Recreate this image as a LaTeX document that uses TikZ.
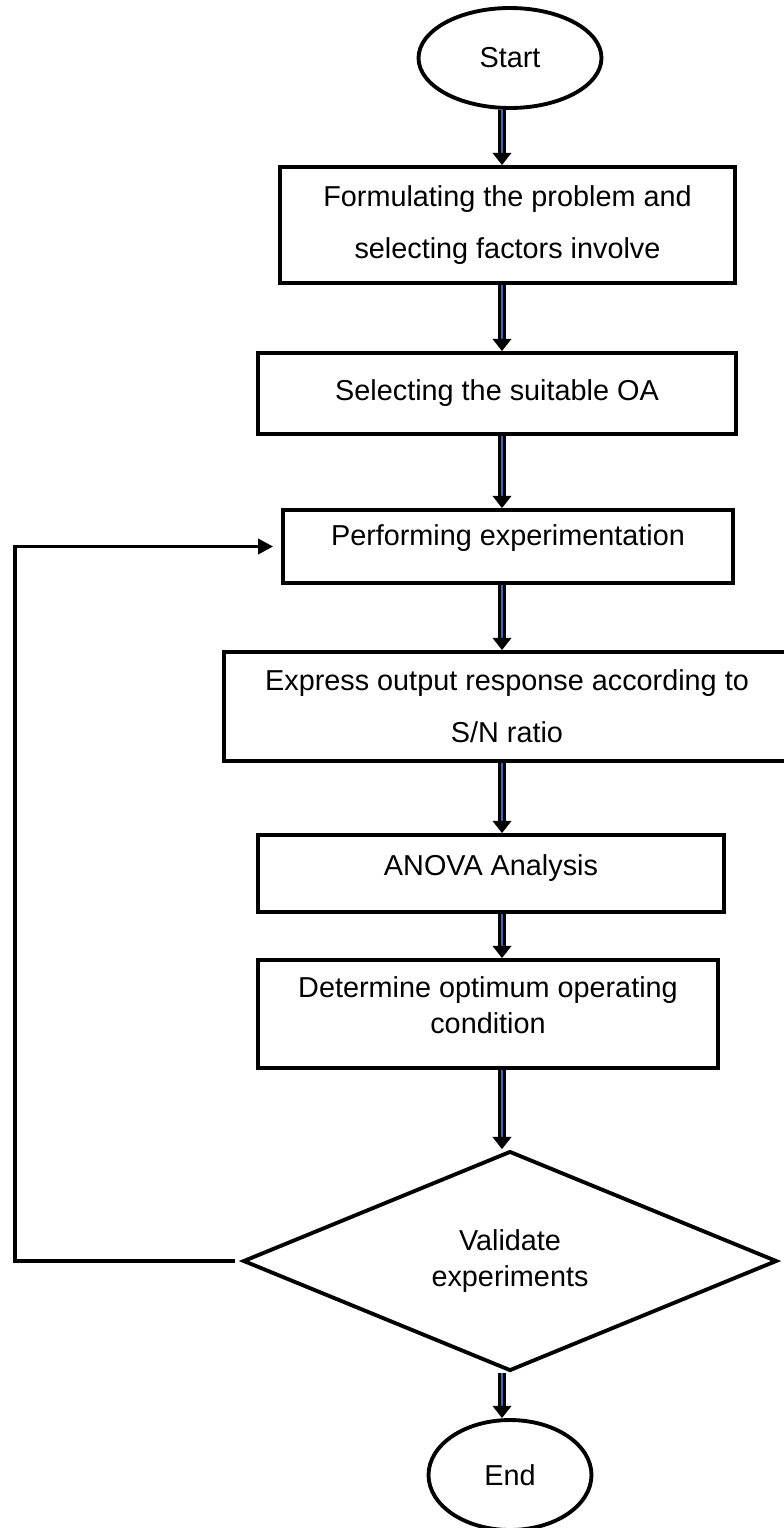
\documentclass[tikz,border=0pt]{standalone}
\usepackage{fontspec}
\setmainfont{Liberation Sans}
\usetikzlibrary{arrows.meta,shapes.geometric}
\definecolor{flowblue}{RGB}{70,100,180}

\begin{document}
\begin{tikzpicture}[x=0.02cm,y=-0.02cm,
    every node/.style={font=\fontsize{16.4}{29.6}\selectfont, align=center, inner sep=0pt},
    box/.style={draw, line width=2.2pt, rectangle},
    term/.style={draw, line width=2.2pt, ellipse},
    decide/.style={draw, line width=2.2pt, diamond},
    lift/.style={text depth=#1},
    flow/.style={double=flowblue, double distance=1.7pt, line width=1.4pt, -{Triangle[width=10.6pt,length=7pt]}},
    loopline/.style={line width=2pt}]
    \useasboundingbox (0,0) rectangle (784,1528);
    \coordinate (spine) at (502,0);
    \coordinate (fbx) at (15,0);

    \node[term, minimum width=3.66cm, minimum height=2cm] (start) at (510,58) {Start};
    \node[box, minimum width=9.1cm, minimum height=2.32cm] (box1) at (507.5,225) {Formulating the problem and\\selecting factors involve};
    \node[box, minimum width=9.56cm, minimum height=1.62cm] (box2) at (497,393.5) {Selecting the suitable OA};
    \node[box, minimum width=9cm, minimum height=1.46cm, lift=0.44cm] (box3) at (508,546.5) {Performing experimentation};
    \node[box, minimum width=11.32cm, minimum height=2.18cm] (box4) at (507,706.5) {Express output response according to\\S/N ratio};
    \node[box, minimum width=9.32cm, minimum height=1.54cm, lift=0.32cm] (box5) at (491,873.5) {ANOVA Analysis};
    \node[box, minimum width=9.2cm, minimum height=2.16cm, lift=0.34cm, font=\fontsize{16.4}{20.5}\selectfont] (box6) at (488,1014) {Determine optimum operating\\condition};
    \node[decide, minimum width=10.68cm, minimum height=4.1cm, font=\fontsize{16.4}{20.5}\selectfont] (check) at (510,1261) {Validate\\experiments};
    \node[term, minimum width=3.26cm, minimum height=2.2cm] (end) at (510,1475) {End};

    \draw[flow] (start.south -| spine) -- (box1.north -| spine);
    \draw[flow] (box1.south -| spine) -- (box2.north -| spine);
    \draw[flow] (box2.south -| spine) -- (box3.north -| spine);
    \draw[flow] (box3.south -| spine) -- (box4.north -| spine);
    \draw[flow] (box4.south -| spine) -- (box5.north -| spine);
    \draw[flow] (box5.south -| spine) -- (box6.north -| spine);
    \draw[flow] (box6.south -| spine) -- (check.north -| spine);
    \draw[flow] (check.south -| spine) -- (end.north -| spine);

    \draw[loopline, -{Triangle[width=8.5pt,length=8.5pt]}, shorten <=0.12cm, shorten >=0.16cm]
        (check.west) -- (check.west -| fbx) |- (box3.west);
\end{tikzpicture}
\end{document}
